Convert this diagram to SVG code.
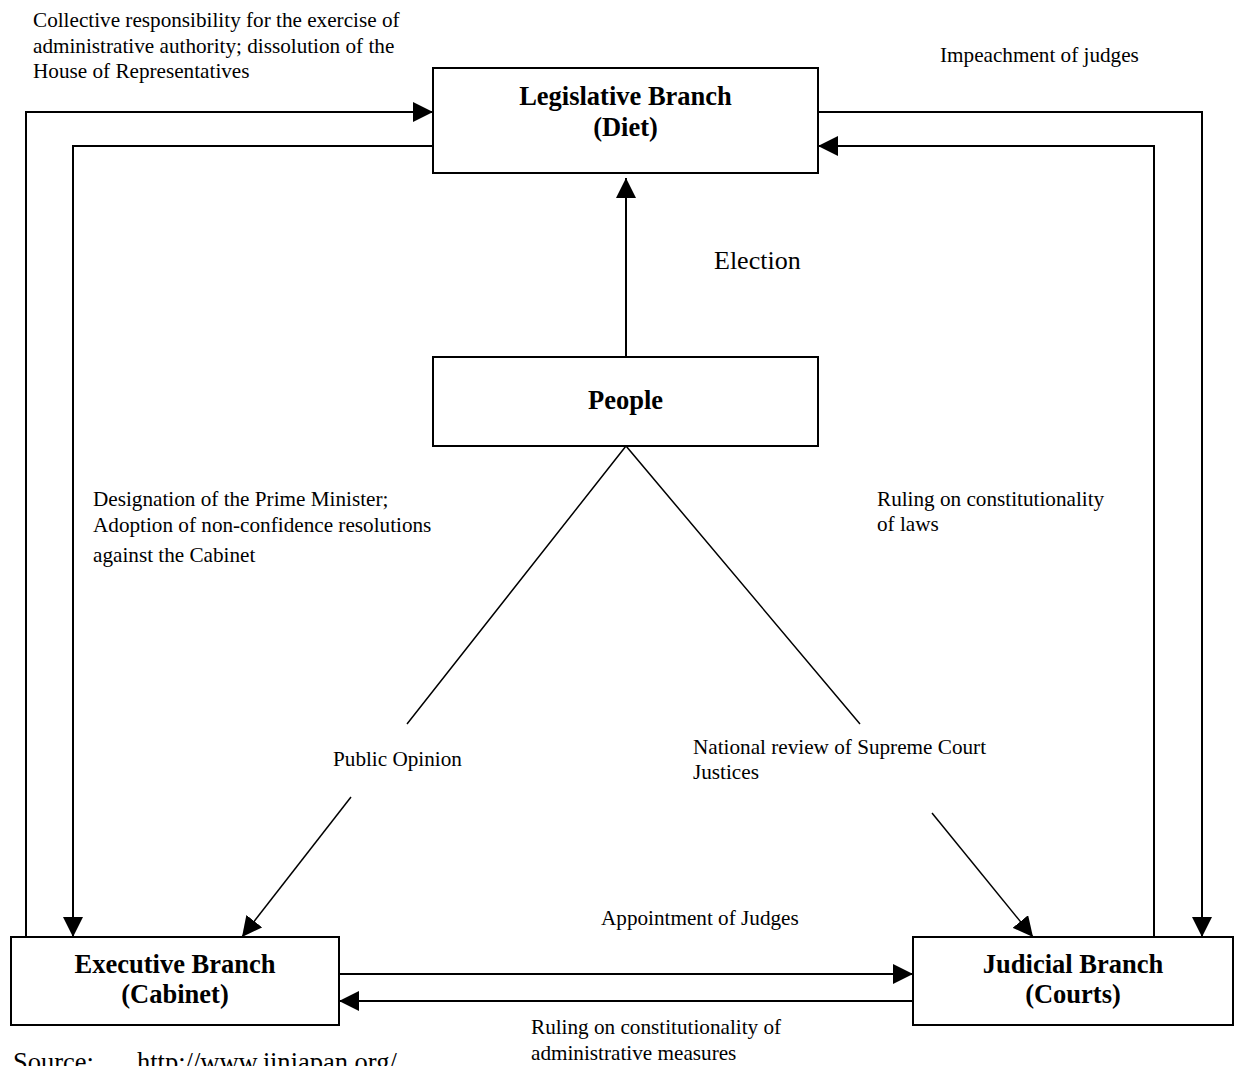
<svg xmlns="http://www.w3.org/2000/svg" width="1237" height="1066" viewBox="0 0 1237 1066">
<style>
.box{fill:#fff;stroke:#000;stroke-width:2}
.t{font-family:"Liberation Serif","Times New Roman",serif;font-size:21.2px;fill:#000}
.b{font-family:"Liberation Serif","Times New Roman",serif;font-size:26.5px;font-weight:bold;fill:#000;text-anchor:middle}
.c{fill:none;stroke:#000;stroke-width:2}
.thin{fill:none;stroke:#000;stroke-width:1.5}
</style>
<defs>
<marker id="ah" viewBox="0 0 20 20" refX="20" refY="10" markerWidth="20" markerHeight="20" markerUnits="userSpaceOnUse" orient="auto">
<path d="M0,0 L20,10 L0,20 z" fill="#000"/>
</marker>
</defs>
<rect width="1237" height="1066" fill="#fff"/>
<g id="connectors">
<path class="c" d="M26,937 V112 H433" marker-end="url(#ah)"/>
<path class="c" d="M433,146 H73 V937" marker-end="url(#ah)"/>
<path class="c" d="M818,112 H1202 V937" marker-end="url(#ah)"/>
<path class="c" d="M1154,937 V146 H818" marker-end="url(#ah)"/>
<path class="c" d="M339,974 H913" marker-end="url(#ah)"/>
<path class="c" d="M913,1001 H339" marker-end="url(#ah)"/>
<path class="c" d="M626,357 V178" marker-end="url(#ah)"/>
<path class="thin" d="M351,797 L242,937" marker-end="url(#ah)"/>
<path class="thin" d="M932,813 L1033,937" marker-end="url(#ah)"/>
<path class="thin" d="M407,724 L626,446 L860,724"/>
</g>
<g id="legislative">
<rect class="box" x="433" y="68" width="385" height="105"/>
<text class="b" x="625.5" y="105">Legislative Branch</text>
<text class="b" x="625.5" y="136">(Diet)</text>
</g>
<g id="people">
<rect class="box" x="433" y="357" width="385" height="89"/>
<text class="b" x="625.5" y="409">People</text>
</g>
<g id="executive">
<rect class="box" x="11" y="937" width="328" height="88"/>
<text class="b" x="175" y="973">Executive Branch</text>
<text class="b" x="175" y="1003">(Cabinet)</text>
</g>
<g id="judicial">
<rect class="box" x="913" y="937" width="320" height="88"/>
<text class="b" x="1073" y="973">Judicial Branch</text>
<text class="b" x="1073" y="1003">(Courts)</text>
</g>
<g id="labels">
<text class="t" x="33" y="27">Collective responsibility for the exercise of</text>
<text class="t" x="33" y="53">administrative authority; dissolution of the</text>
<text class="t" x="33" y="78">House of Representatives</text>
<text class="t" x="940" y="62">Impeachment of judges</text>
<text class="t" x="714" y="269" style="font-size:26px">Election</text>
<text class="t" x="93" y="506">Designation of the Prime Minister;</text>
<text class="t" x="93" y="532">Adoption of non-confidence resolutions</text>
<text class="t" x="93" y="562">against the Cabinet</text>
<text class="t" x="877" y="506">Ruling on constitutionality</text>
<text class="t" x="877" y="531">of laws</text>
<text class="t" x="333" y="766">Public Opinion</text>
<text class="t" x="693" y="754">National review of Supreme Court</text>
<text class="t" x="693" y="779">Justices</text>
<text class="t" x="601" y="925">Appointment of Judges</text>
<text class="t" x="531" y="1034">Ruling on constitutionality of</text>
<text class="t" x="531" y="1060">administrative measures</text>
<text class="t" x="13" y="1071" style="font-size:26.5px">Source:<tspan x="137">http://www.jinjapan.org/</tspan></text>
</g>
</svg>
